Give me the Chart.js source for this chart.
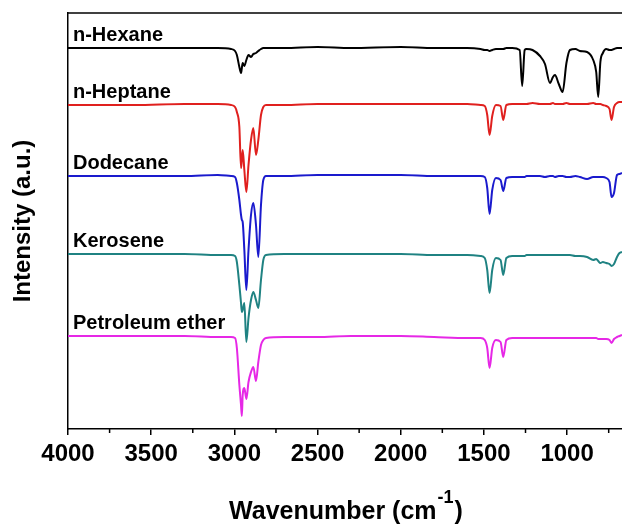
<!DOCTYPE html>
<html>
<head>
<meta charset="utf-8">
<script src="https://cdn.jsdelivr.net/npm/chart.js@4.4.1/dist/chart.umd.min.js"></script>
<style>
  html, body { margin: 0; padding: 0; background: #fff; }
</style>
</head>
<body>
<canvas id="ftirChart" width="622" height="524"></canvas>
<script>
// wavenumber grid (cm-1)
const wavenumbers = [
  4000, 3600, 3300, 3100, 3020, 2996, 2985, 2970, 2960, 2955,
  2950, 2940, 2928, 2915, 2900, 2886, 2870, 2856, 2840, 2826,
  2810, 2700, 2500, 2300, 2000, 1800, 1600, 1520, 1495, 1480,
  1466, 1450, 1428, 1400, 1384, 1365, 1330, 1285, 1270, 1255,
  1244, 1208, 1163, 1133, 1103, 1085, 1073, 1050, 1027, 1004,
  983, 950, 923, 880, 843, 825, 813, 800, 785, 765,
  745, 733, 718, 700, 685, 670
];

// intensities (a.u.), each spectrum already offset
const hexane = [
  381, 381, 381, 381, 380, 378, 374, 362, 356, 361,
  366, 363, 369, 374, 372, 375, 376, 378, 380, 381,
  381, 381, 382, 381, 382, 381, 381, 380, 379, 379,
  378, 379, 380, 380, 380, 381, 381, 379, 343, 379,
  380, 379, 373, 365, 346, 352, 354, 345, 337, 366,
  379, 380, 378, 377, 369, 357, 332, 367, 376, 380,
  379, 379, 380, 381, 381, 381
];
const heptane = [
  324, 324, 325, 325, 324, 322, 317, 302, 261, 269,
  279, 259, 237, 264, 289, 301, 274, 289, 314, 322,
  324, 324, 325, 325, 325, 325, 325, 324, 323, 314,
  294, 313, 324, 323, 309, 324, 325, 325, 325, 325,
  325, 326, 325, 325, 325, 326, 325, 325, 325, 326,
  325, 325, 325, 325, 326, 325, 325, 325, 324, 323,
  320, 309, 322, 326, 327, 327
];
const dodecane = [
  253, 253, 253, 254, 253, 252, 246, 229, 214, 209,
  207, 179, 139, 179, 214, 226, 204, 172, 224, 249,
  253, 253, 254, 254, 254, 253, 253, 253, 252, 241,
  215, 239, 251, 249, 238, 251, 252, 252, 252, 252,
  253, 253, 253, 252, 253, 253, 252, 253, 253, 252,
  252, 253, 252, 250, 252, 252, 252, 252, 252, 251,
  247, 232, 236, 254, 255, 256
];
const kerosene = [
  175, 175, 175, 174, 174, 173, 167, 144, 126, 117,
  119, 126, 87, 111, 129, 137, 129, 121, 149, 169,
  174, 175, 175, 175, 175, 174, 174, 173, 171, 159,
  136, 159, 171, 169, 154, 171, 173, 173, 173, 173,
  174, 174, 174, 174, 174, 174, 174, 174, 174, 174,
  174, 173, 173, 172, 169, 170, 168, 166, 167, 166,
  165, 163, 165, 172, 176, 177
];
const petroleumEther = [
  93, 93, 93, 92, 92, 91, 81, 44, 24, 13,
  34, 41, 30, 47, 57, 62, 48, 67, 84, 89,
  91, 92, 92, 93, 93, 92, 91, 91, 89, 81,
  61, 81, 89, 87, 72, 89, 91, 91, 91, 91,
  91, 91, 91, 91, 91, 91, 91, 91, 91, 91,
  91, 91, 91, 91, 91, 91, 90, 90, 90, 90,
  89, 86, 90, 92, 93, 94
];

const seriesNames = ['n-Hexane', 'n-Heptane', 'Dodecane', 'Kerosene', 'Petroleum ether'];
const seriesValues = [hexane, heptane, dodecane, kerosene, petroleumEther];
const seriesColors = ['#000000', '#e0201e', '#1a1acd', '#1f8282', '#e628e6'];

const majorTicks = [4000, 3500, 3000, 2500, 2000, 1500, 1000];
const minorTicks = [3750, 3250, 2750, 2250, 1750, 1250, 750];

const FONT = '"Liberation Sans", Arial, sans-serif';

// frame top line, minor ticks, curve labels and x title with superscript
const extras = {
  id: 'extras',
  afterDraw(chart) {
    const ctx = chart.ctx;
    const a = chart.chartArea;
    const x = chart.scales.x;
    const y = chart.scales.y;
    ctx.save();
    ctx.strokeStyle = '#000';
    ctx.lineWidth = 1.5;
    ctx.beginPath();
    ctx.moveTo(a.left, a.top);
    ctx.lineTo(a.right, a.top);
    ctx.stroke();

    minorTicks.forEach(v => {
      const px = x.getPixelForValue(v);
      ctx.beginPath();
      ctx.moveTo(px, a.bottom);
      ctx.lineTo(px, a.bottom + 4);
      ctx.stroke();
    });

    ctx.fillStyle = '#000';
    ctx.textAlign = 'left';
    ctx.textBaseline = 'alphabetic';
    ctx.font = 'bold 20px ' + FONT;
    chart.data.datasets.forEach(ds => {
      ctx.fillText(ds.label, x.getPixelForValue(3970), y.getPixelForValue(ds.data[0].y + 7));
    });

    // x axis title: Wavenumber (cm-1)
    const main = 'Wavenumber (cm';
    const sup = '-1';
    const close = ')';
    ctx.font = 'bold 25px ' + FONT;
    const w1 = ctx.measureText(main).width;
    const w3 = ctx.measureText(close).width;
    ctx.font = 'bold 18px ' + FONT;
    const w2 = ctx.measureText(sup).width;
    let tx = (a.left + a.right) / 2 - (w1 + w2 + w3) / 2;
    const ty = 519;
    ctx.font = 'bold 25px ' + FONT;
    ctx.fillText(main, tx, ty);
    tx += w1 + 1;
    ctx.font = 'bold 18px ' + FONT;
    ctx.fillText(sup, tx, ty - 16);
    tx += w2 + 1;
    ctx.font = 'bold 25px ' + FONT;
    ctx.fillText(close, tx, ty);
    ctx.restore();
  }
};

const ctx = document.getElementById('ftirChart').getContext('2d');
const chart = new Chart(ctx, {
  type: 'line',
  data: {
    datasets: seriesNames.map((name, i) => ({
      label: name,
      data: wavenumbers.map((w, j) => ({ x: w, y: seriesValues[i][j] })),
      borderColor: seriesColors[i],
      borderWidth: 2,
      pointRadius: 0,
      fill: false,
      cubicInterpolationMode: 'monotone'
    }))
  },
  options: {
    responsive: false,
    animation: false,
    layout: { padding: { top: 13, right: 0, left: 0, bottom: 0 } },
    plugins: {
      legend: { display: false },
      tooltip: { enabled: false }
    },
    scales: {
      x: {
        type: 'linear',
        position: 'bottom',
        reverse: true,
        min: 670,
        max: 4000,
        afterBuildTicks: s => { s.ticks = majorTicks.map(v => ({ value: v })); },
        afterFit: s => { s.height = 95; },
        ticks: {
          color: '#000',
          font: { family: FONT, size: 24, weight: 'bold' },
          padding: 5,
          maxRotation: 0,
          autoSkip: false,
          callback: v => String(v)
        },
        grid: {
          display: true,
          drawOnChartArea: false,
          drawTicks: true,
          tickLength: 6,
          color: '#000',
          lineWidth: 1.5
        },
        border: { display: true, color: '#000', width: 1.5 }
      },
      y: {
        type: 'linear',
        min: 0,
        max: 416,
        afterFit: s => { s.width = 68; },
        ticks: { display: false },
        grid: { display: false },
        border: { display: true, color: '#000', width: 1.5 },
        title: {
          display: true,
          text: 'Intensity (a.u.)',
          color: '#000',
          font: { family: FONT, size: 24, weight: 'bold' },
          padding: { top: 9, bottom: 0 }
        }
      }
    }
  },
  plugins: [extras]
});
</script>
</body>
</html>
